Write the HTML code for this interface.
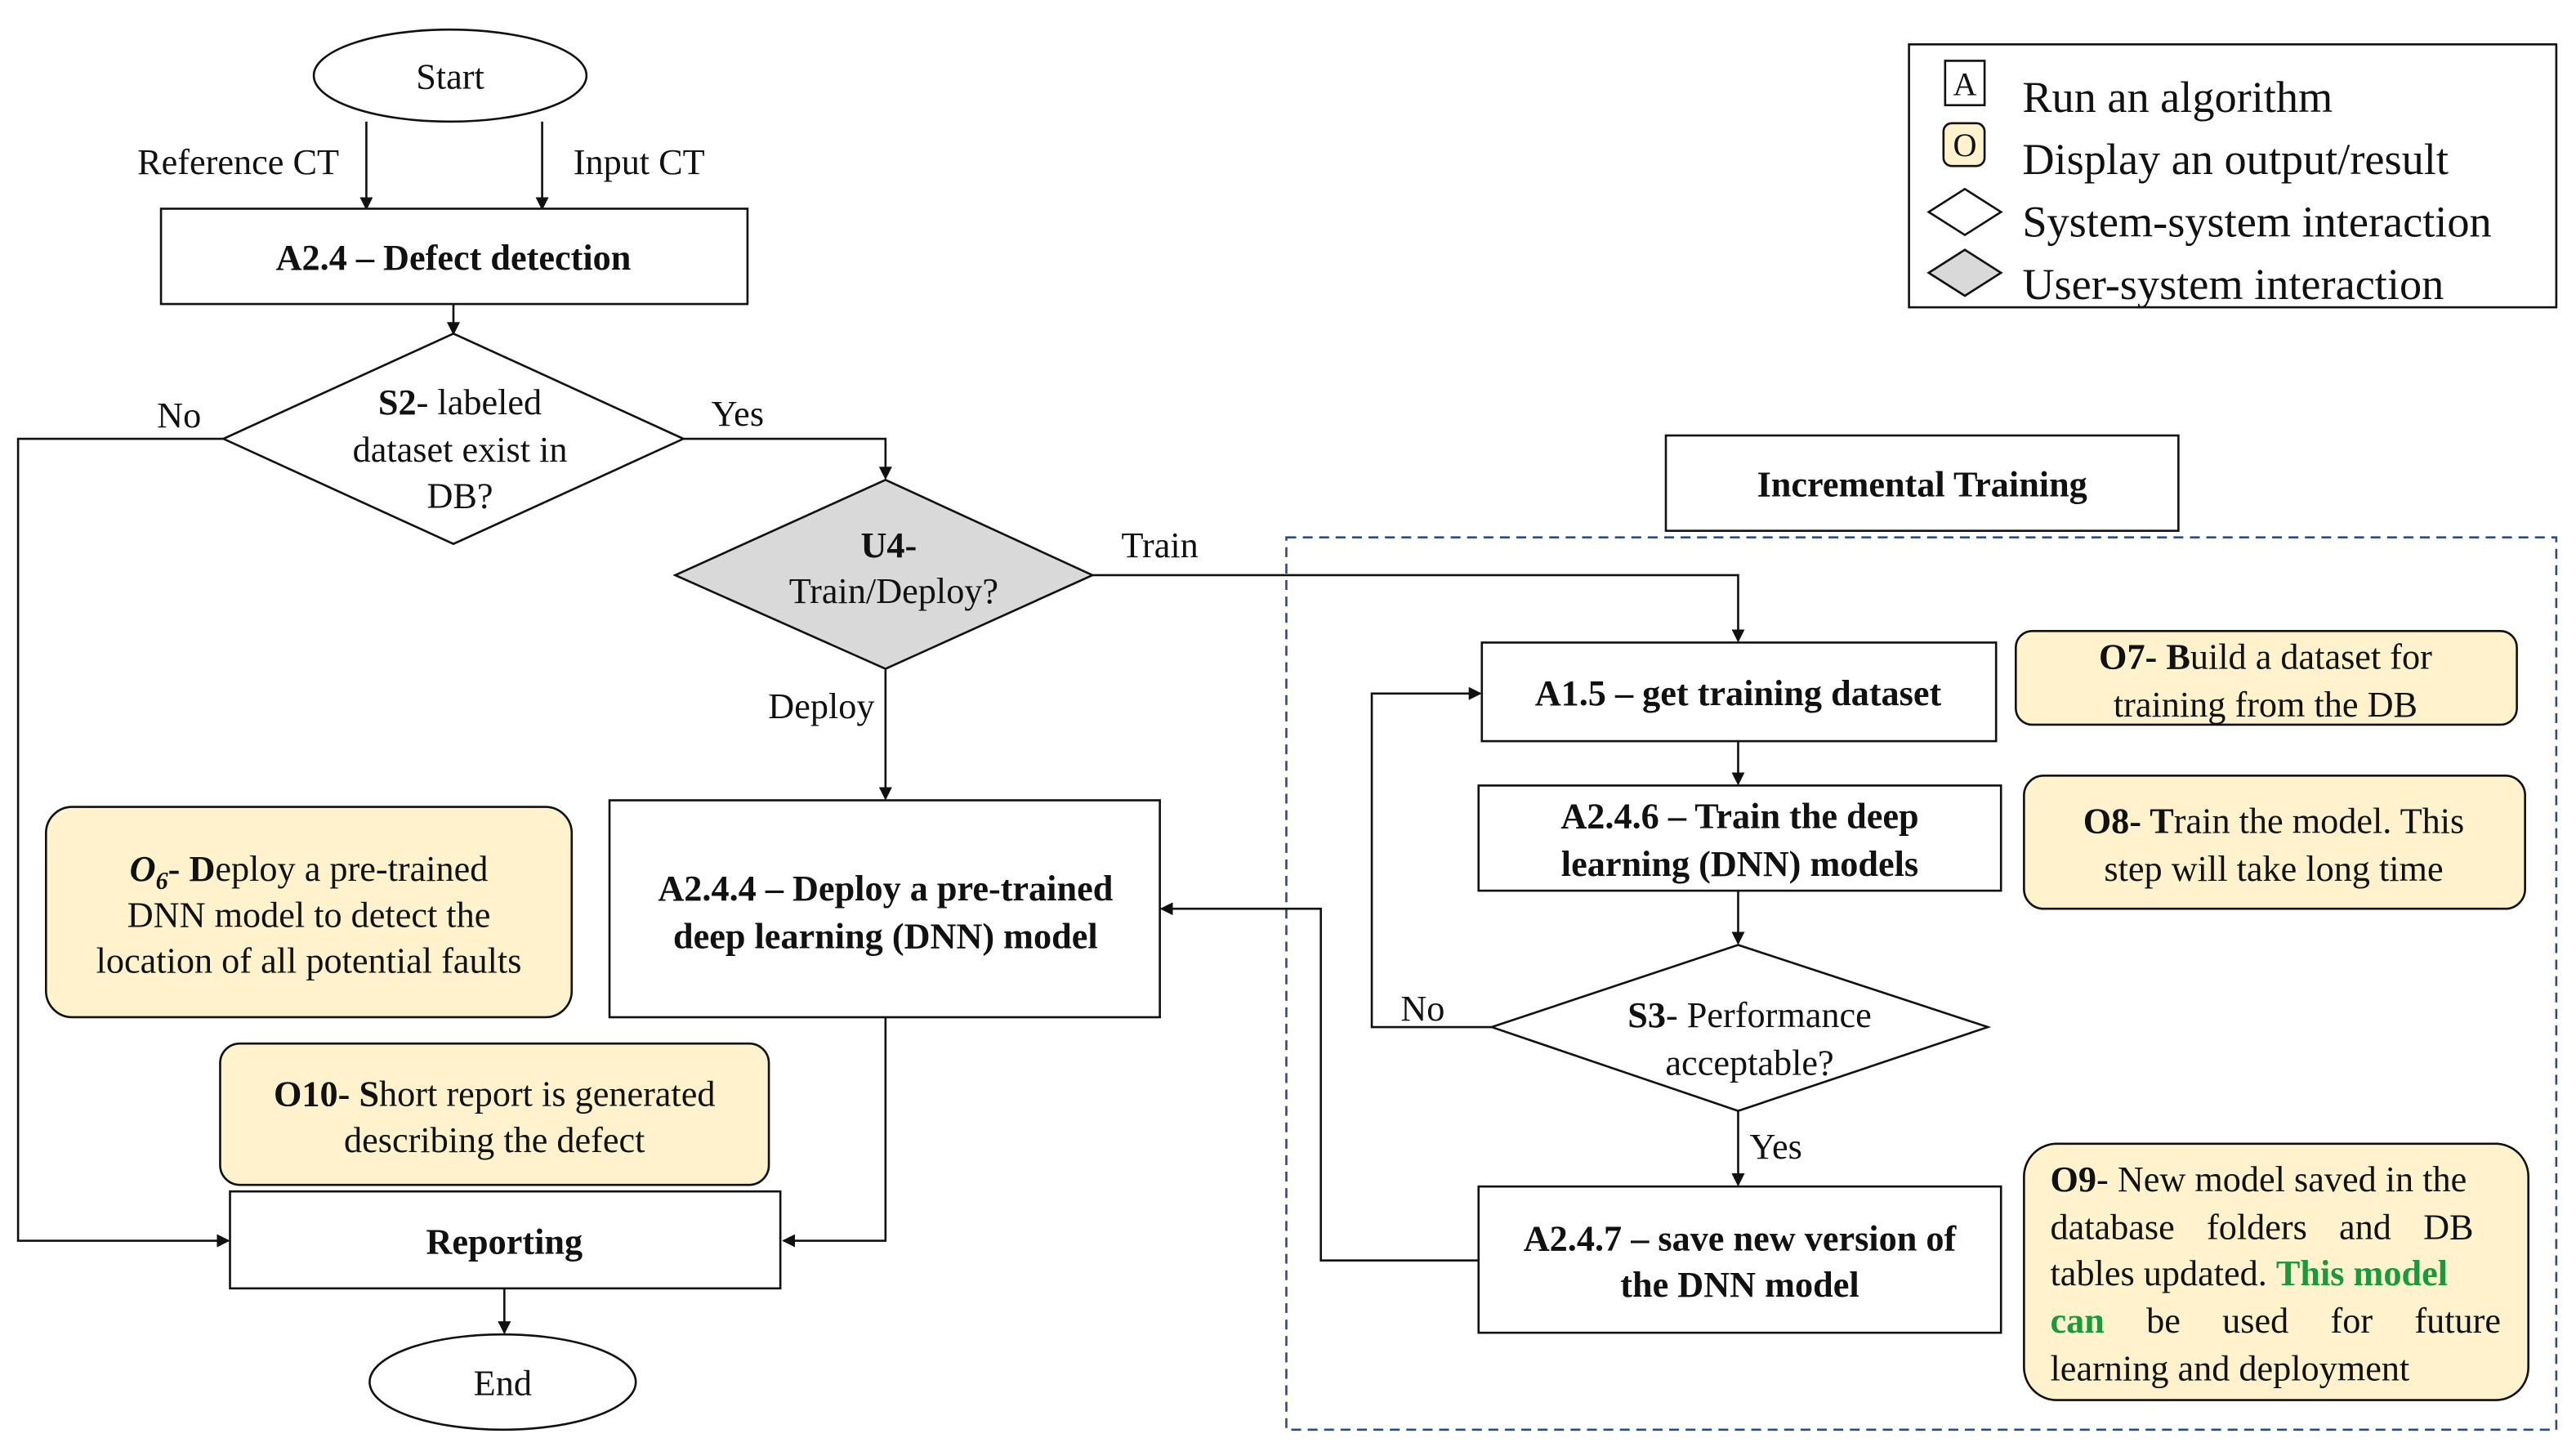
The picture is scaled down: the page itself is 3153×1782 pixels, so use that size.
<!DOCTYPE html>
<html><head><meta charset="utf-8"><style>
html,body{margin:0;padding:0;background:#fff;}
svg{display:block;font-family:"Liberation Serif","DejaVu Serif",serif;}
svg text{font-family:"Liberation Serif","DejaVu Serif",serif;fill:#111;}
.b{font-weight:bold;}
</style></head><body>
<svg width="3153" height="1782" viewBox="0 0 1568 886" preserveAspectRatio="none" xmlns="http://www.w3.org/2000/svg" font-family="Liberation Serif, DejaVu Serif, serif">
<defs><marker id="a" markerWidth="8" markerHeight="8" refX="7" refY="4" orient="auto" markerUnits="userSpaceOnUse"><path d="M0,0 L8,4 L0,8 z" fill="#111"/></marker></defs>
<g stroke="#111" stroke-width="1.3" fill="none">
<ellipse cx="274" cy="46" rx="83" ry="28" fill="#fff"/>
<line x1="223" y1="74" x2="223" y2="127" marker-end="url(#a)"/>
<line x1="330" y1="74" x2="330" y2="127" marker-end="url(#a)"/>
<rect x="98" y="127" width="357" height="58" fill="#fff"/>
<line x1="276" y1="185" x2="276" y2="203" marker-end="url(#a)"/>
<polygon points="276,203 416,267 276,331 136,267" fill="#fff"/>
<polyline points="136,267 11,267 11,755 139,755" marker-end="url(#a)"/>
<polyline points="416,267 539,267 539,291" marker-end="url(#a)"/>
<polygon points="539,292 665,350 539,407 411,350" fill="#d9d9d9"/>
<polyline points="665,350 1058,350 1058,390" marker-end="url(#a)"/>
<line x1="539" y1="407" x2="539" y2="486" marker-end="url(#a)"/>
<rect x="371" y="487" width="335" height="132" fill="#fff"/>
<polyline points="539,619 539,755 477,755" marker-end="url(#a)"/>
<rect x="28" y="491" width="320" height="128" rx="16" fill="#fff2cc"/>
<rect x="134" y="635" width="334" height="86" rx="12" fill="#fff2cc"/>
<rect x="140" y="725" width="335" height="59" fill="#fff"/>
<line x1="307" y1="784" x2="307" y2="811" marker-end="url(#a)"/>
<ellipse cx="306" cy="841" rx="81" ry="29" fill="#fff"/>
<rect x="1162" y="27" width="394" height="160" fill="#fff"/>
<rect x="1184" y="37" width="24" height="27" fill="#fff"/>
<rect x="1183" y="75" width="25" height="26" rx="5" fill="#fff2cc"/>
<polygon points="1196,115 1218,129 1196,143 1174,129" fill="#fff"/>
<polygon points="1196,152 1218,166 1196,180 1174,166" fill="#d9d9d9"/>
<rect x="1014" y="265" width="312" height="58" fill="#fff"/>
<rect x="783" y="327" width="773" height="543" stroke="#2f4a8a" stroke-dasharray="6,4"/>
<rect x="902" y="391" width="313" height="60" fill="#fff"/>
<line x1="1058" y1="451" x2="1058" y2="477" marker-end="url(#a)"/>
<rect x="900" y="478" width="318" height="64" fill="#fff"/>
<line x1="1058" y1="542" x2="1058" y2="574" marker-end="url(#a)"/>
<polygon points="1058,575 1210,625 1058,676 908,625" fill="#fff"/>
<polyline points="908,625 835,625 835,422 901,422" marker-end="url(#a)"/>
<line x1="1058" y1="676" x2="1058" y2="721" marker-end="url(#a)"/>
<rect x="900" y="722" width="318" height="89" fill="#fff"/>
<polyline points="900,767 804,767 804,553 707,553" marker-end="url(#a)"/>
<rect x="1227" y="384" width="305" height="57" rx="10" fill="#fff2cc"/>
<rect x="1232" y="472" width="305" height="81" rx="12" fill="#fff2cc"/>
<rect x="1232" y="696" width="307" height="156" rx="20" fill="#fff2cc"/>
</g>
<g font-size="22" text-anchor="middle" font-family="Liberation Serif, DejaVu Serif, serif">
<text x="274" y="54">Start</text>
<text x="145" y="106">Reference CT</text>
<text x="389" y="106">Input  CT</text>
<text x="276" y="164" class="b">A2.4 – Defect detection</text>
<text x="109" y="260">No</text>
<text x="449" y="259">Yes</text>
<text x="280" y="252"><tspan class="b">S2</tspan>- labeled</text>
<text x="280" y="281">dataset exist in</text>
<text x="280" y="309">DB?</text>
<text x="541" y="339" class="b">U4-</text>
<text x="544" y="367">Train/Deploy?</text>
<text x="706" y="339">Train</text>
<text x="500" y="437">Deploy</text>
<text x="539" y="548" class="b">A2.4.4 – Deploy a pre-trained</text>
<text x="539" y="577" class="b">deep learning (DNN) model</text>
<text x="188" y="536"><tspan class="b" font-style="italic">O</tspan><tspan class="b" font-style="italic" font-size="15" dy="5">6</tspan><tspan class="b" dy="-5">- D</tspan>eploy a pre-trained</text>
<text x="188" y="564">DNN model to detect the</text>
<text x="188" y="592">location of all potential faults</text>
<text x="301" y="673"><tspan class="b">O10- S</tspan>hort report is generated</text>
<text x="301" y="701">describing the defect</text>
<text x="307" y="763" class="b">Reporting</text>
<text x="306" y="849">End</text>
<text x="1170" y="302" class="b">Incremental Training</text>
<text x="1058" y="429" class="b">A1.5 – get training dataset</text>
<text x="1059" y="504" class="b">A2.4.6 – Train the deep</text>
<text x="1059" y="533" class="b">learning (DNN) models</text>
<text x="1065" y="625"><tspan class="b">S3</tspan>- Performance</text>
<text x="1065" y="654">acceptable?</text>
<text x="866" y="621">No</text>
<text x="1081" y="705">Yes</text>
<text x="1059" y="761" class="b">A2.4.7 – save new version of</text>
<text x="1059" y="789" class="b">the DNN model</text>
<text x="1379" y="407"><tspan class="b">O7- B</tspan>uild a dataset for</text>
<text x="1379" y="436">training from the DB</text>
<text x="1384" y="507"><tspan class="b">O8- T</tspan>rain the model. This</text>
<text x="1384" y="536">step will take long time</text>
</g>
<g font-size="22" font-family="Liberation Serif, DejaVu Serif, serif">
<text x="1248" y="725"><tspan class="b">O9</tspan>- New model saved in the</text>
<text x="1248" y="754" word-spacing="14">database folders and DB</text>
<text x="1248" y="782">tables updated. <tspan class="b" style="fill:#1a9a3a">This model</tspan></text>
<text x="1248" y="811" word-spacing="20"><tspan class="b" style="fill:#1a9a3a">can</tspan> be used for future</text>
<text x="1248" y="840">learning and deployment</text>
</g>
<g font-size="20" text-anchor="middle" font-family="Liberation Serif, DejaVu Serif, serif">
<text x="1196" y="58">A</text>
<text x="1196" y="95">O</text>
</g>
<g font-size="27" font-family="Liberation Serif, DejaVu Serif, serif">
<text x="1231" y="68">Run an algorithm</text>
<text x="1231" y="106">Display an output/result</text>
<text x="1231" y="144">System-system interaction</text>
<text x="1231" y="182">User-system interaction</text>
</g>
</svg>
</body></html>
